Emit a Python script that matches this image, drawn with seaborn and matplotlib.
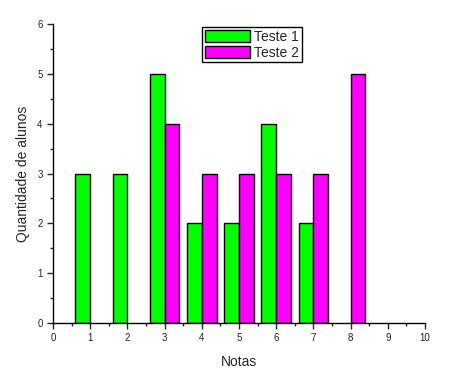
import pandas as pd
import matplotlib.pyplot as plt
import seaborn as sns
from matplotlib.ticker import MultipleLocator

notas = [1, 2, 3, 4, 5, 6, 7, 8]
teste1 = [3, 3, 5, 2, 2, 4, 2, 0]
teste2 = [0, 0, 4, 3, 3, 3, 3, 5]

df = pd.DataFrame({
    'Notas': notas * 2,
    'Quantidade': teste1 + teste2,
    'Teste': ['Teste 1'] * len(notas) + ['Teste 2'] * len(notas),
})
df = df[df['Quantidade'] > 0]

sns.set_style('ticks')
plt.rcParams['font.family'] = ['Liberation Sans', 'DejaVu Sans']

fig = plt.figure(figsize=(4.55, 3.88), dpi=100)
ax = fig.add_axes([0.1165, 0.1675, 0.8175, 0.7705])

sns.barplot(data=df, x='Notas', y='Quantidade', hue='Teste',
            hue_order=['Teste 1', 'Teste 2'], native_scale=True,
            palette={'Teste 1': '#00ff00', 'Teste 2': '#ff00ff'},
            width=0.8, dodge=True, edgecolor='black', linewidth=1,
            saturation=1, errorbar=None, ax=ax)

ax.set_xlim(0, 10)
ax.set_ylim(0, 6)
ax.xaxis.set_major_locator(MultipleLocator(1))
ax.xaxis.set_minor_locator(MultipleLocator(0.5))
ax.yaxis.set_major_locator(MultipleLocator(1))
ax.yaxis.set_minor_locator(MultipleLocator(0.5))
ax.tick_params(which='major', length=4, width=1, labelsize=7, direction='out')
ax.tick_params(which='minor', length=2.5, width=1, direction='out')
sns.despine(ax=ax)
for s in ['left', 'bottom']:
    ax.spines[s].set_color('black')
    ax.spines[s].set_linewidth(1)

ax.set_xlabel('Notas', fontsize=10, labelpad=8)
ax.set_ylabel('Quantidade de alunos', fontsize=10, labelpad=5)

leg = ax.legend(loc='upper center', bbox_to_anchor=(0.535, 1.0), fontsize=10,
                frameon=True, fancybox=False, edgecolor='black', framealpha=1,
                handlelength=3.2, handleheight=1.0, handletextpad=0.3,
                borderpad=0.2, labelspacing=0.15, borderaxespad=0.2)
leg.get_frame().set_linewidth(1)

fig.savefig('out.png', dpi=100)
